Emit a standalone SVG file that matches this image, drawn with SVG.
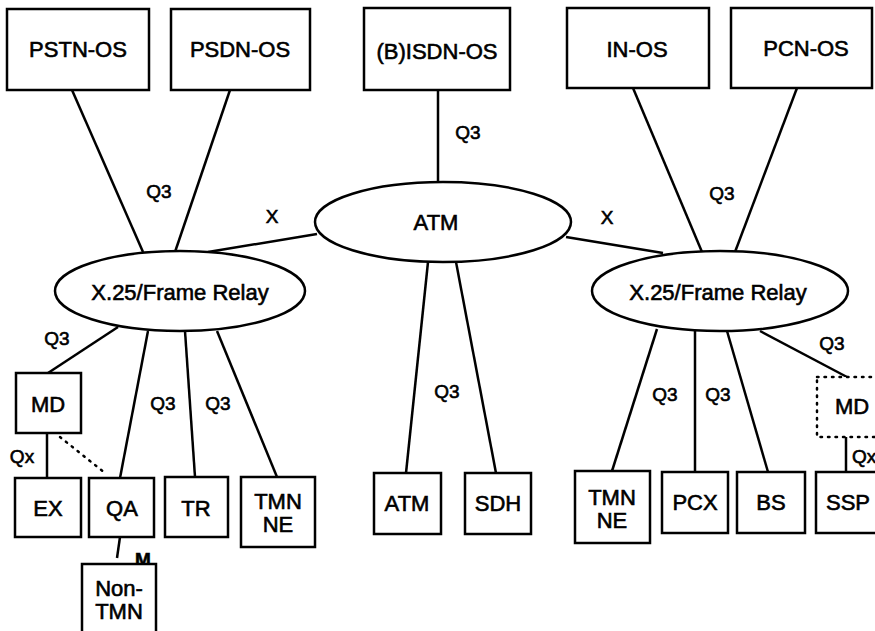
<svg xmlns="http://www.w3.org/2000/svg" width="875" height="631" viewBox="0 0 875 631">
<style>
  .box { fill: #fff; stroke: #000; stroke-width: 2.5; }
  .dot { fill: #fff; stroke: #000; stroke-width: 2.5; stroke-dasharray: 1.5 6; stroke-linecap: round; }
  .ell { fill: #fff; stroke: #000; stroke-width: 2.5; }
  .ln { stroke: #000; stroke-width: 2.5; fill: none; }
  .dl { stroke: #000; stroke-width: 2.5; fill: none; stroke-dasharray: 1.5 6; stroke-linecap: round; }
  text { font-family: "Liberation Sans", Arial, sans-serif; fill: #000; stroke: #000; stroke-width: 0.6; }
  .t { font-size: 22px; text-anchor: middle; }
  .l { font-size: 19px; text-anchor: middle; }
</style>
<rect width="875" height="631" fill="#fff"/>
<g id="connectors">
  <line class="ln" x1="72" y1="90" x2="143" y2="252"/>
  <line class="ln" x1="230" y1="90" x2="175" y2="252"/>
  <line class="ln" x1="438" y1="90" x2="438" y2="182"/>
  <line class="ln" x1="633" y1="88" x2="702" y2="252"/>
  <line class="ln" x1="797" y1="88" x2="735" y2="252"/>
  <line class="ln" x1="317" y1="234" x2="208" y2="252"/>
  <line class="ln" x1="566" y1="237" x2="663" y2="253"/>
  <line class="ln" x1="428" y1="262" x2="406" y2="473"/>
  <line class="ln" x1="456" y1="262" x2="496" y2="473"/>
  <line class="ln" x1="118" y1="327" x2="48" y2="373"/>
  <line class="ln" x1="148" y1="331" x2="120" y2="478"/>
  <line class="ln" x1="185" y1="331" x2="195" y2="477"/>
  <line class="ln" x1="217" y1="331" x2="277" y2="477"/>
  <line class="ln" x1="47" y1="433" x2="47" y2="478"/>
  <line class="dl" x1="60" y1="437" x2="105" y2="473"/>
  <line class="ln" x1="120" y1="537" x2="117" y2="558"/>
  <line class="ln" x1="657" y1="329" x2="612" y2="471"/>
  <line class="ln" x1="695" y1="331" x2="695" y2="472"/>
  <line class="ln" x1="727" y1="331" x2="768" y2="472"/>
  <line class="ln" x1="760" y1="331" x2="847" y2="377"/>
  <line class="ln" x1="846" y1="437" x2="846" y2="472"/>
  <text class="l" x="159" y="198">Q3</text>
  <text class="l" x="468" y="139">Q3</text>
  <text class="l" x="722" y="200">Q3</text>
  <text class="l" x="272" y="223">X</text>
  <text class="l" x="607" y="224">X</text>
  <text class="l" x="447" y="398">Q3</text>
  <text class="l" x="57" y="345">Q3</text>
  <text class="l" x="163" y="410">Q3</text>
  <text class="l" x="218" y="410">Q3</text>
  <text class="l" x="22" y="463">Qx</text>
  <text class="l" x="143" y="566" style="font-weight:bold">M</text>
  <text class="l" x="665" y="401">Q3</text>
  <text class="l" x="718" y="401">Q3</text>
  <text class="l" x="832" y="350">Q3</text>
  <text class="l" x="852" y="463" style="text-anchor:start">Qx</text>
</g>
<g id="pstn-os"><rect class="box" x="7" y="9" width="142" height="81"/><text class="t" x="78" y="57">PSTN-OS</text></g>
<g id="psdn-os"><rect class="box" x="171" y="9" width="139" height="81"/><text class="t" x="240" y="57">PSDN-OS</text></g>
<g id="bisdn-os"><rect class="box" x="364" y="8" width="146" height="82"/><text class="t" x="437" y="59">(B)ISDN-OS</text></g>
<g id="in-os"><rect class="box" x="567" y="8" width="142" height="80"/><text class="t" x="637" y="57">IN-OS</text></g>
<g id="pcn-os"><rect class="box" x="731" y="8" width="141" height="80"/><text class="t" x="806" y="56">PCN-OS</text></g>
<g id="atm-net"><ellipse class="ell" cx="443" cy="222" rx="128" ry="40"/><text class="t" x="436" y="230">ATM</text></g>
<g id="fr-left"><ellipse class="ell" cx="180" cy="291" rx="125" ry="40"/><text class="t" x="180" y="300">X.25/Frame Relay</text></g>
<g id="fr-right"><ellipse class="ell" cx="720" cy="291" rx="128" ry="40"/><text class="t" x="718" y="300">X.25/Frame Relay</text></g>
<g id="md-left"><rect class="box" x="16" y="373" width="65" height="60"/><text class="t" x="48" y="412">MD</text></g>
<g id="ex"><rect class="box" x="15" y="478" width="66" height="59"/><text class="t" x="48" y="516">EX</text></g>
<g id="qa"><rect class="box" x="89" y="478" width="65" height="59"/><text class="t" x="122" y="516">QA</text></g>
<g id="tr"><rect class="box" x="165" y="477" width="63" height="60"/><text class="t" x="196" y="516">TR</text></g>
<g id="tmn-ne-left"><rect class="box" x="241" y="477" width="74" height="70"/><text class="t" x="278" y="509">TMN</text><text class="t" x="278" y="532">NE</text></g>
<g id="non-tmn"><rect class="box" x="82" y="564" width="74" height="80"/><text class="t" x="119" y="596">Non-</text><text class="t" x="119" y="619">TMN</text></g>
<g id="atm"><rect class="box" x="374" y="473" width="67" height="61"/><text class="t" x="407" y="511">ATM</text></g>
<g id="sdh"><rect class="box" x="465" y="473" width="66" height="61"/><text class="t" x="498" y="511">SDH</text></g>
<g id="tmn-ne-right"><rect class="box" x="575" y="471" width="75" height="72"/><text class="t" x="612" y="505">TMN</text><text class="t" x="612" y="528">NE</text></g>
<g id="pcx"><rect class="box" x="662" y="472" width="66" height="61"/><text class="t" x="695" y="510">PCX</text></g>
<g id="bs"><rect class="box" x="737" y="472" width="68" height="61"/><text class="t" x="771" y="510">BS</text></g>
<g id="ssp"><rect class="box" x="816" y="472" width="70" height="61"/><text class="t" x="848" y="510">SSP</text></g>
<g id="md-right"><rect class="dot" x="817" y="377" width="70" height="60"/><text class="t" x="852" y="414">MD</text></g>
</svg>
